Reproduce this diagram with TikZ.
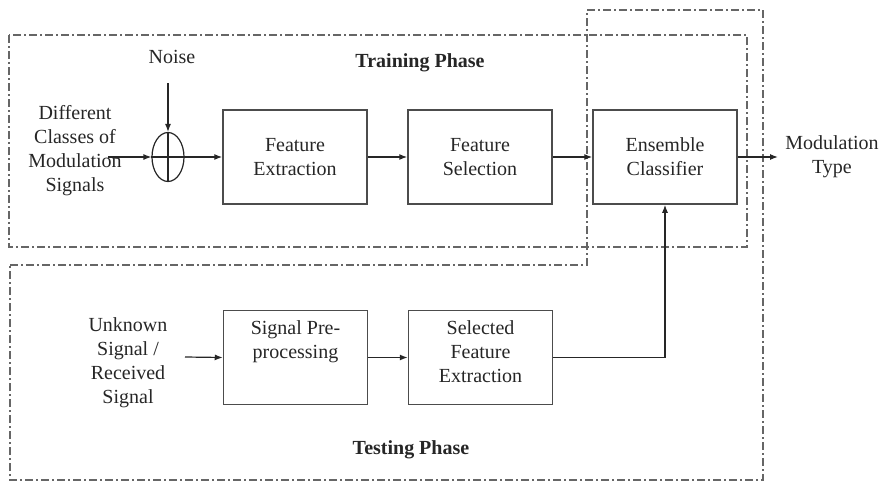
\documentclass[tikz,border=0pt]{standalone}
\usepackage{fontspec}
\setmainfont{Liberation Serif}
\usetikzlibrary{arrows.meta,shapes.geometric}

\begin{document}
\begin{tikzpicture}
    [
        x = 0.5pt, y = -0.5pt,
        font = \fontsize{10}{12}\selectfont,
        txt/.style = {align = center, text = black!85, inner sep = 1pt},
        block/.style = {draw = black!70, line width = 0.75pt, minimum width = 72pt, minimum height = 47pt, align = center, text = black!85},
        flow/.style = {-{Latex[length = 4pt, width = 3pt]}, line width = 0.6pt, black!85},
        phase/.style = {draw = black!60, line width = 0.6pt, dash pattern = on 4pt off 1.5pt on 1pt off 1.5pt},
    ]

    \useasboundingbox (0,0) rectangle (880,483);

    \draw[phase] (9,35) rectangle (747,247);
    \draw[phase] (10,265) -- (587,265) -- (587,10) -- (763,10) -- (763,480) -- (10,480) -- cycle;

    \node[txt, font = \fontsize{10}{12}\selectfont\bfseries] (train) at (420,63) {Training Phase};
    \node[txt, font = \fontsize{10}{12}\selectfont\bfseries] (test) at (411,450) {Testing Phase};

    \node[block] (fe) at (295,157) {Feature\\Extraction};
    \node[block] (fs) at (480,157) {Feature\\Selection};
    \node[block] (ec) at (665,157) {Ensemble\\Classifier};
    \node[block] (sp) at (295.5,357.5) {};
    \node[block] (sfe) at (480.5,357.5) {};
    \node[txt, anchor = north, inner sep = 5pt] (sptext) at (sp.north) {Signal Pre-\\processing};
    \node[txt, anchor = north, inner sep = 5pt] (sfetext) at (sfe.north) {Selected\\Feature\\Extraction};

    \node[draw, ellipse, black!85, line width = 0.6pt, minimum width = 16pt, minimum height = 24.5pt, inner sep = 0pt] (sum) at (168,157) {};
    \draw[black!85, line width = 0.6pt] (sum.north) -- (sum.south);
    \draw[black!85, line width = 0.6pt] (sum.west) -- (sum.east);

    \node[txt] (noise) at (172,57) {Noise};
    \node[txt] (classes) at (75,151) {Different\\Classes of\\Modulation\\Signals};
    \node[txt] (modtype) at (832,157) {Modulation\\Type};
    \node[txt] (unknown) at (128,363) {Unknown\\Signal /\\Received\\Signal};

    \coordinate (nzin) at (168,83);
    \coordinate (clsin) at (108,157);
    \coordinate (out) at (778,157);
    \coordinate (unkin) at (185,357);

    \draw[flow] (nzin) -- (sum.north);
    \draw[flow] (clsin) -- (sum.west);
    \draw[flow] (unkin) -- (sp.west);
    \draw[flow] (ec.east) -- (out);

    \foreach \a/\b in {sum/fe, fe/fs, fs/ec, sp/sfe}{
            \draw[flow] (\a) -- (\b);
        }

    \draw[flow] (sfe.east) -| (ec.south);

\end{tikzpicture}
\end{document}
